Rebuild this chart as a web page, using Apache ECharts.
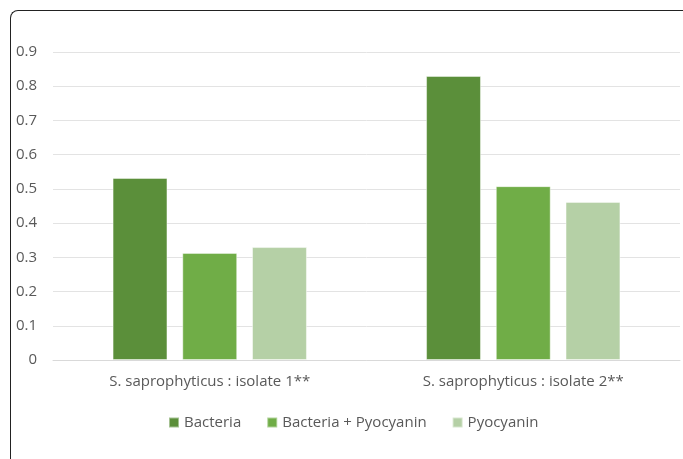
<!DOCTYPE html>
<html>
<head>
<meta charset="utf-8">
<script src="https://cdn.jsdelivr.net/npm/echarts@6/dist/echarts.min.js"></script>
<style>
  html, body { margin: 0; padding: 0; background: #fff; overflow: hidden; }
  #frame {
    position: absolute; left: 10px; top: 10px; width: 700px; height: 480px;
    border-left: 1.5px solid #222; border-top: 1.5px solid #222;
    border-top-left-radius: 8px; box-sizing: border-box;
  }
  #chart { position: absolute; left: 0; top: 0; width: 683px; height: 459px; }
</style>
</head>
<body>
<div id="frame"></div>
<div id="chart"></div>
<script>
const categories = ['S. saprophyticus : isolate 1**', 'S. saprophyticus : isolate 2**'];
const bacteria = [0.532, 0.830];
const bacteriaPyocyanin = [0.313, 0.508];
const pyocyanin = [0.330, 0.462];

const font = '"Open Sans", sans-serif';
const colors = ['#5b8f3a', '#70ad47', '#b5d0a6'];

const makeSeries = (name, data, color) => ({
  name,
  type: 'bar',
  data,
  barGap: '27%',
  barCategoryGap: '38%',
  itemStyle: {
    color,
    borderColor: 'rgba(255,255,255,0.45)',
    borderWidth: 1,
  },
});

const chart = echarts.init(document.getElementById('chart'));
chart.setOption({
  animation: false,
  textStyle: { fontFamily: font },
  grid: { left: 53, right: 3, top: 52, bottom: 99, containLabel: false },
  legend: {
    bottom: 24,
    left: 163,
    itemWidth: 10,
    itemHeight: 10,
    itemGap: 25,
    icon: 'rect',
    textStyle: { color: '#595959', fontSize: 15, fontFamily: font },
    data: ['Bacteria', 'Bacteria + Pyocyanin', 'Pyocyanin'],
  },
  xAxis: {
    type: 'category',
    data: categories,
    axisLine: { show: true, lineStyle: { color: '#d9d9d9', width: 1 } },
    axisTick: { show: false },
    axisLabel: { color: '#595959', fontSize: 15, margin: 14, fontFamily: font },
  },
  yAxis: {
    type: 'value',
    min: 0,
    max: 0.9,
    interval: 0.1,
    axisLine: { show: false },
    axisTick: { show: false },
    axisLabel: {
      color: '#595959', fontSize: 15, margin: 16, fontFamily: font,
      formatter: v => (v === 0 ? '0' : v.toFixed(1)),
    },
    splitLine: { lineStyle: { color: '#e3e3e3', width: 1 } },
  },
  series: [
    makeSeries('Bacteria', bacteria, colors[0]),
    makeSeries('Bacteria + Pyocyanin', bacteriaPyocyanin, colors[1]),
    makeSeries('Pyocyanin', pyocyanin, colors[2]),
  ],
});
</script>
</body>
</html>
